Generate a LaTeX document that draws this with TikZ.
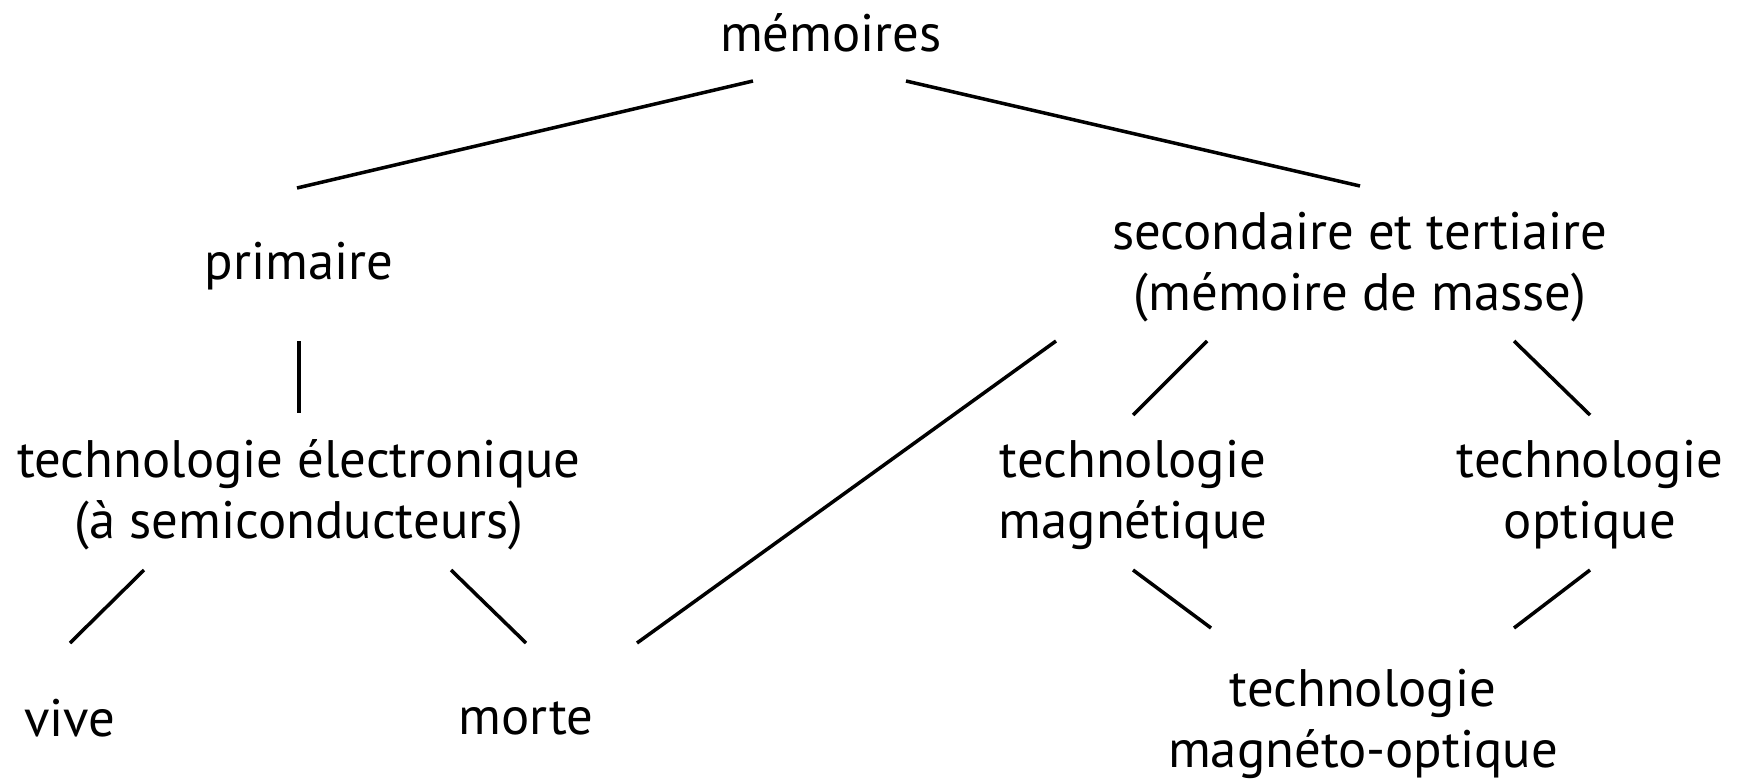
\documentclass[tikz,border=0pt]{standalone}
\usepackage{fontspec}
\setmainfont{PT Sans}

\begin{document}
\begin{tikzpicture}[x=0.01cm,y=-0.01cm,
  item/.style={align=center, inner sep=0pt, font=\fontsize{15}{17.3}\selectfont},
  link/.style={line width=1pt}]
  \useasboundingbox (0,0) rectangle (1737,779);
  \node[item] (mem)   at (831,33)   {mémoires};
  \node[item] (prim)  at (299,266)  {primaire};
  \node[item] (elec)  at (299,495)  {technologie électronique\\(à semiconducteurs)};
  \node[item] (vive)  at (70,718)   {vive};
  \node[item] (morte) at (526,718)  {morte};
  \node[item] (sec)   at (1360,267) {secondaire et tertiaire\\(mémoire de masse)};
  \node[item] (mag)   at (1133,495) {technologie\\magnétique};
  \node[item] (opt)   at (1590,495) {technologie\\optique};
  \node[item] (mo)    at (1363,724) {technologie\\magnéto-optique};

  \draw[link] ([shift={(-78,48)}]mem.center) -- ([shift={(-2,-78)}]prim.center);
  \draw[link] ([shift={(75,48)}]mem.center) -- ([shift={(0,-81)}]sec.center);
  \draw[link] ([shift={(0,75)}]prim.center) -- ([shift={(0,-82)}]elec.center);
  \draw[link] ([shift={(-155,75)}]elec.center) -- ([shift={(0,-75)}]vive.center);
  \draw[link] ([shift={(152,75)}]elec.center) -- ([shift={(0,-75)}]morte.center);
  \draw[link] ([shift={(-304,74)}]sec.center) -- ([shift={(111,-75)}]morte.center);
  \draw[link] ([shift={(-153,74)}]sec.center) -- ([shift={(0,-80)}]mag.center);
  \draw[link] ([shift={(154,74)}]sec.center) -- ([shift={(0,-80)}]opt.center);
  \draw[link] ([shift={(0,75)}]mag.center) -- ([shift={(-152,-96)}]mo.center);
  \draw[link] ([shift={(0,75)}]opt.center) -- ([shift={(151,-96)}]mo.center);
\end{tikzpicture}
\end{document}
